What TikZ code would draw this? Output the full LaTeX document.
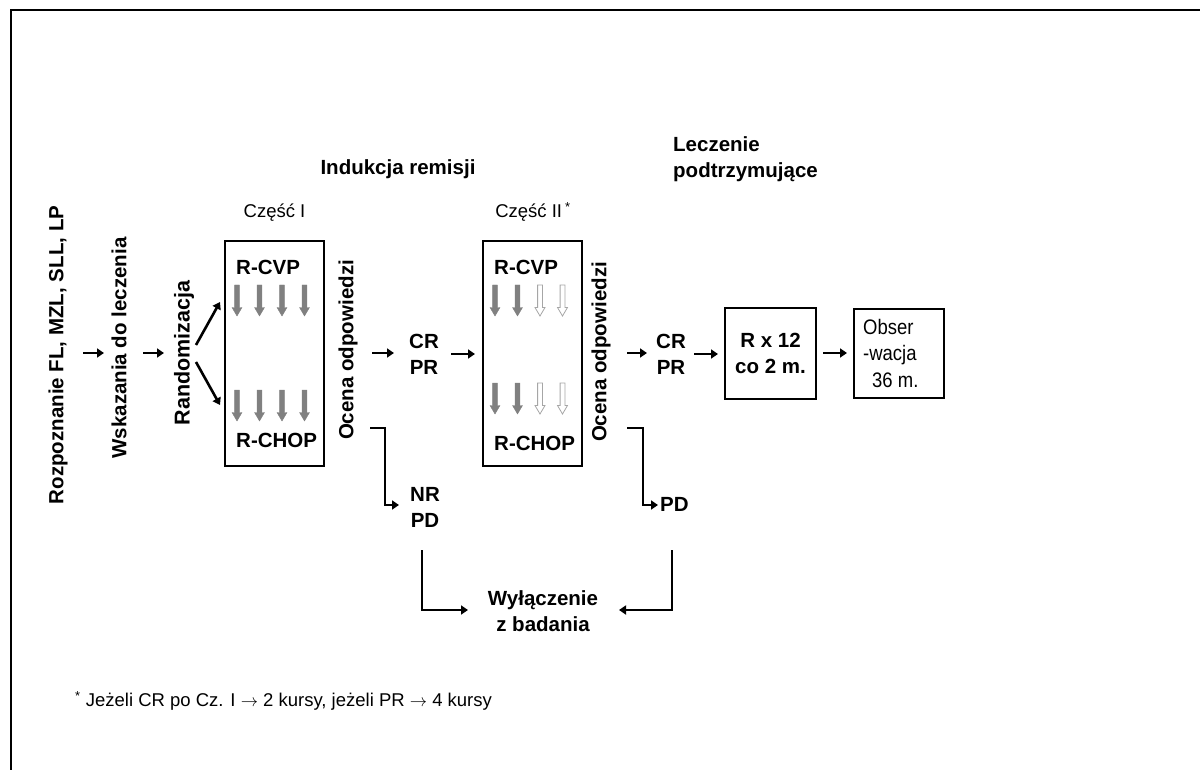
\documentclass[tikz,border=0pt]{standalone}
\usepackage{fontspec}
\setmainfont{Liberation Sans}
\newfontfamily\narrowf[FakeStretch=0.88]{Liberation Sans}
\usetikzlibrary{arrows.meta}
\definecolor{garr}{HTML}{808080}
\definecolor{gedge}{HTML}{A6A6A6}
\tikzset{
  blk/.style={line width=2.6pt,-{Triangle[length=7pt,width=9pt]}},
  elbow/.style={line width=2.6pt,-{Triangle[length=7pt,width=9pt]}},
  bt/.style={font=\fontsize{20.5}{26}\selectfont\bfseries, inner sep=0pt},
  rt/.style={bt, rotate=90},
  lbl/.style={font=\fontsize{18.5}{22}\selectfont, inner sep=0pt},
  nar/.style={font=\fontsize{21}{26.5}\selectfont\narrowf, inner sep=0pt},
  partbox/.style={draw, line width=1.2pt, minimum width=99pt, minimum height=225pt, inner sep=0pt},
  sqbox/.style={draw, line width=2pt, inner sep=0pt},
  gshape/.pic={\path[pic actions] (-2.4,0) -- (2.4,0) -- (2.4,22.5) -- (5,22.5) -- (0,31) -- (-5,22.5) -- (-2.4,22.5) -- cycle;},
  gfull/.style={fill=garr, draw=garr, line width=0.4pt},
  gempty/.style={fill=white, draw=gedge, line width=0.8pt},
}
\begin{document}
\begin{tikzpicture}[x=1pt,y=-1pt]
\useasboundingbox (0,0) rectangle (1200,770);
\draw[line width=1.8pt] (11,770) -- (11,10) -- (1200,10);

% headings
\node[bt] (ind) at (398,169) {Indukcja remisji};
\node[bt, anchor=west, align=left] (lecz) at (673,159) {Leczenie\\podtrzymujące};

% left column
\node[rt] (roz) at (58,355) {Rozpoznanie FL, MZL, SLL, LP};
\node[rt] (wsk) at (119,348) {Wskazania do leczenia};
\node[rt, font=\fontsize{21.5}{26}\selectfont\bfseries] (rand) at (184,353) {Randomizacja};
\coordinate (a1s) at (83,353);  \coordinate (a1e) at (104,353);
\coordinate (a2s) at (143,353); \coordinate (a2e) at (164,353);
\draw[blk] (a1s) -- (a1e);
\draw[blk] (a2s) -- (a2e);
\coordinate (r0a) at (196,345); \coordinate (r1) at (220,302);
\coordinate (r0b) at (196,362); \coordinate (r2) at (220,405);
\draw[blk] (r0a) -- (r1);
\draw[blk] (r0b) -- (r2);

% part I
\node[partbox] (box1) at (274.5,353.5) {};
\node[lbl] (cz1) at (274.5,213) {Część I};
\node[bt, anchor=west] (rcvp1) at (236,267) {R-CVP};
\node[bt, anchor=west] (rchop1) at (236,440) {R-CHOP};
\foreach \x in {237,259.5,282,304.5} {
  \pic[gfull] at (\x,285) {gshape};
  \pic[gfull] at (\x,390) {gshape};
}
\node[rt] (oc1) at (348,350) {Ocena odpowiedzi};
\coordinate (a3s) at (372,353); \coordinate (a3e) at (394,353);
\draw[blk] (a3s) -- (a3e);
\node[bt, align=center] (crpr1) at (424,354) {CR\\PR};
\coordinate (a4s) at (451,354); \coordinate (a4e) at (475,354);
\draw[blk] (a4s) -- (a4e);

% part II
\node[partbox] (box2) at (532.5,353.5) {};
\node[lbl] (cz2) at (533,212) {Część II\,\textsuperscript{*}};
\node[bt, anchor=west] (rcvp2) at (494,267) {R-CVP};
\node[bt, anchor=west] (rchop2) at (494,443) {R-CHOP};
\foreach \x in {495,517.5} {
  \pic[gfull] at (\x,285) {gshape};
  \pic[gfull] at (\x,383) {gshape};
}
\foreach \x in {540,562.5} {
  \pic[gempty] at (\x,285) {gshape};
  \pic[gempty] at (\x,383) {gshape};
}
\node[rt] (oc2) at (601,352) {Ocena odpowiedzi};
\coordinate (a5s) at (627,353); \coordinate (a5e) at (647,353);
\draw[blk] (a5s) -- (a5e);
\node[bt, align=center] (crpr2) at (671,354) {CR\\PR};
\coordinate (a6s) at (694,354); \coordinate (a6e) at (718,354);
\draw[blk] (a6s) -- (a6e);

% maintenance
\node[sqbox, minimum width=91pt, minimum height=91pt, bt, align=center] (rx) at (770.5,353.5) {R x 12\\co 2 m.};
\coordinate (a7s) at (823,353); \coordinate (a7e) at (847,353);
\draw[blk] (a7s) -- (a7e);
\node[sqbox, minimum width=90pt, minimum height=89pt] (obs) at (899,353.5) {};
\node[nar, anchor=west, align=left] (obstxt) at (863,353) {Obser\\-wacja\\\hspace*{9pt}36 m.};

% exits
\coordinate (e1a) at (370,428); \coordinate (e1b) at (385,428);
\coordinate (e1c) at (385,505); \coordinate (e1d) at (399,505);
\draw[elbow] (e1a) -- (e1b) -- (e1c) -- (e1d);
\node[bt, align=center] (nrpd) at (425,507) {NR\\PD};
\coordinate (e2a) at (627,428); \coordinate (e2b) at (643,428);
\coordinate (e2c) at (643,505); \coordinate (e2d) at (658,505);
\draw[elbow] (e2a) -- (e2b) -- (e2c) -- (e2d);
\node[bt, anchor=west] (pd2) at (660,504) {PD};

\coordinate (e3a) at (422,550); \coordinate (e3b) at (422,610); \coordinate (e3c) at (468,610);
\draw[elbow] (e3a) -- (e3b) -- (e3c);
\coordinate (e4a) at (672,550); \coordinate (e4b) at (672,610); \coordinate (e4c) at (619,610);
\draw[elbow] (e4a) -- (e4b) -- (e4c);
\node[bt, align=center] (wyl) at (543,611) {Wyłączenie\\z badania};

% footnote
\node[font=\fontsize{18.5}{22}\selectfont, inner sep=0pt, anchor=west] (fn) at (75,701) {\textsuperscript{*} Jeżeli CR po Cz. I \ensuremath{\rightarrow} 2 kursy, jeżeli PR \ensuremath{\rightarrow} 4 kursy};
\end{tikzpicture}
\end{document}
